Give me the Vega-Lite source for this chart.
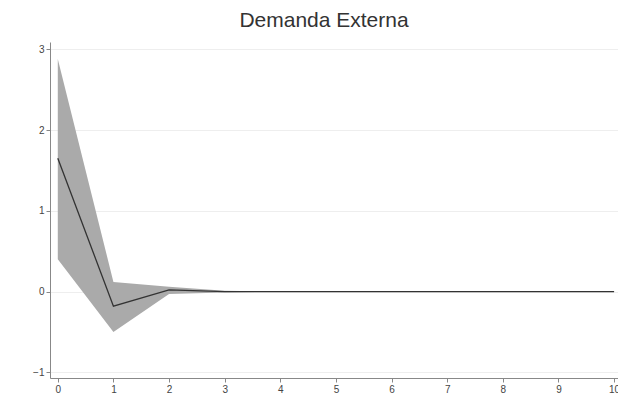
{
  "$schema": "https://vega.github.io/schema/vega-lite/v6.json",
  "width": 568,
  "height": 336,
  "autosize": "none",
  "padding": {"left": 50, "top": 42, "right": 0, "bottom": 24},
  "background": "white",
  "title": {"text": "Demanda Externa", "fontSize": 21, "font": "Liberation Sans", "fontWeight": "normal", "color": "#333", "offset": 11, "anchor": "middle", "dx": -10},
  "config": {"view": {"stroke": null}},
  "data": {"values": [
    {"step": 0, "irf": 1.65, "lo": 0.40, "hi": 2.88},
    {"step": 1, "irf": -0.18, "lo": -0.50, "hi": 0.12},
    {"step": 2, "irf": 0.02, "lo": -0.03, "hi": 0.06},
    {"step": 3, "irf": 0.0, "lo": -0.01, "hi": 0.01},
    {"step": 4, "irf": 0.0, "lo": 0.0, "hi": 0.0},
    {"step": 5, "irf": 0.0, "lo": 0.0, "hi": 0.0},
    {"step": 6, "irf": 0.0, "lo": 0.0, "hi": 0.0},
    {"step": 7, "irf": 0.0, "lo": 0.0, "hi": 0.0},
    {"step": 8, "irf": 0.0, "lo": 0.0, "hi": 0.0},
    {"step": 9, "irf": 0.0, "lo": 0.0, "hi": 0.0},
    {"step": 10, "irf": 0.0, "lo": 0.0, "hi": 0.0}
  ]},
  "layer": [
    {
      "mark": {"type": "area", "color": "#aaaaaa", "opacity": 1},
      "encoding": {
        "x": {"field": "step", "type": "quantitative", "scale": {"domain": [-0.14, 10.07], "nice": false, "zero": false},
          "axis": {"title": null, "values": [0,1,2,3,4,5,6,7,8,9,10], "format": "d", "grid": false, "labelFontSize": 10, "labelColor": "#444", "domainColor": "#888", "tickColor": "#888", "tickSize": 4, "labelFont": "Liberation Sans", "labelPadding": 2}},
        "y": {"field": "lo", "type": "quantitative", "scale": {"domain": [-1.07, 3.09], "nice": false, "zero": false},
          "axis": {"title": null, "values": [-1,0,1,2,3], "format": "d", "grid": true, "gridColor": "#eeeeee", "labelFontSize": 10, "labelColor": "#444", "domainColor": "#888", "tickColor": "#888", "tickSize": 4, "labelFont": "Liberation Sans", "labelPadding": 2}},
        "y2": {"field": "hi"}
      }
    },
    {
      "mark": {"type": "line", "color": "#333333", "strokeWidth": 1.3},
      "encoding": {
        "x": {"field": "step", "type": "quantitative"},
        "y": {"field": "irf", "type": "quantitative"}
      }
    }
  ]
}
